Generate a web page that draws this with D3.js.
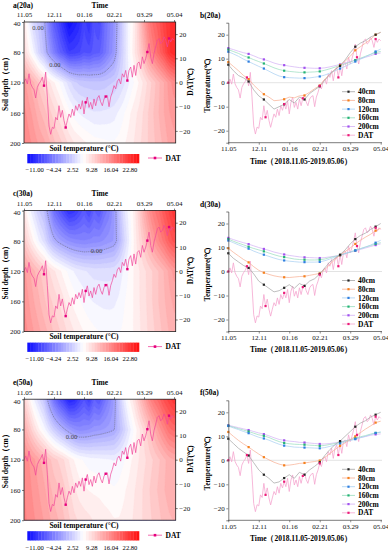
<!DOCTYPE html>
<html>
<head>
<meta charset="utf-8">
<script src="https://cdn.jsdelivr.net/npm/d3@7"></script>
<style>
body { margin: 0; background: #fff; }
svg { display: block; }
text { font-family: "Liberation Serif", "Times New Roman", serif; }
</style>
</head>
<body>
<svg width="388" height="550"></svg>
<script>
// days after 2018.11.05
var tickDays = [0, 36, 72, 108, 144, 180];
var tickLabels = ["11.05", "12.11", "01.16", "02.21", "03.29", "05.04"];
var depths = [40, 80, 120, 160, 200];
var depthTicks = [40, 80, 120, 160, 200];
var tempTicks = [-20, -10, 0, 10, 20];
var cbarLabels = ["\u221211.00", "\u22124.24", "2.52", "9.28", "16.04", "22.80"];
var seriesNames = ["40cm", "80cm", "120cm", "160cm", "200cm", "DAT"];

// soil temperature, one reading every 6 days
var stDays = [0, 6, 12, 18, 24, 30, 36, 42, 48, 54, 60, 66, 72, 78, 84, 90, 96, 102, 108, 114, 120, 126, 132, 138, 144, 150, 156, 162, 168, 174, 180];

var s20_40 = [7.5, 5, 3, 2, 0.5, -3, -5.5, -7, -9, -11, -10, -9, -7, -8.5, -6, -7, -4.5, -3, -1.5, 1, 3.5, 5.5, 7, 9.5, 12.5, 15, 16.5, 17.5, 19, 20, 21];
var s20_80 = [8.6, 6.8, 5, 3, 1.5, -1, -3, -4.8, -6, -7.5, -7.3, -6.9, -6, -6.3, -5.5, -5.3, -4, -2.5, -1.2, 1.5, 3.5, 5.5, 7.3, 9, 11, 13.5, 15, 16.5, 18, 20, 21];
var s20_120 = [12.9, 12, 11, 9.8, 8.8, 7.8, 6.8, 5.9, 4.8, 3.7, 2.8, 2.3, 2.1, 2, 1.9, 1.9, 2, 2.3, 2.6, 3.2, 4, 5, 5.9, 6.8, 7.8, 8.8, 9.8, 10.8, 11.8, 13, 14];
var s20_160 = [13.8, 13, 12.2, 11.2, 10.5, 9.6, 8.8, 8, 7.1, 6.2, 5.5, 5, 4.7, 4.5, 4.3, 4.3, 4.4, 4.5, 4.7, 5.2, 5.8, 6.5, 7.2, 7.8, 8.6, 9.4, 10.2, 11, 11.8, 12.6, 13];
var s20_200 = [14.4, 13.8, 13.1, 12.5, 12, 11.2, 10.3, 9.7, 9, 8.2, 7.6, 7.3, 6.9, 6.6, 6.3, 6.2, 6.1, 6, 6, 6.2, 6.6, 7.1, 7.6, 8.2, 8.8, 9.4, 10, 10.6, 11.2, 12, 12.4];

var s30_40 = [7.6, 5.5, 4, 2.5, 1.5, -1, -4, -5.5, -7, -8.5, -8, -6.8, -5.5, -7, -5, -6, -4, -3, -1, 1.5, 4, 5.5, 7, 9, 11.5, 13.5, 15, 16, 17.5, 18.7, 20];
var s30_80 = [9.7, 8, 6.5, 5, 3.8, 2, 0.5, -0.5, -1.2, -1.8, -2.2, -2.4, -2.5, -2.3, -2.1, -2, -1.6, -1.2, -0.8, 0.8, 3, 5, 6.8, 8.3, 9.8, 11.5, 13, 14.3, 15.5, 17, 18];
var s30_120 = [12.9, 12, 11.1, 10.3, 9.5, 8.5, 7.7, 7, 6.3, 5.6, 5, 4.6, 4.3, 4.1, 3.9, 3.9, 3.9, 3.9, 4, 4.5, 5.2, 6, 6.8, 7.5, 8.2, 8.8, 9.5, 10.2, 11, 12, 13];
var s30_160 = [13.5, 12.6, 11.8, 11.1, 10.3, 9.6, 9, 8.4, 7.7, 7, 6.4, 6, 5.6, 5.2, 5, 4.9, 4.8, 4.8, 4.9, 5.2, 5.8, 6.3, 6.8, 7.5, 8.1, 8.8, 9.5, 10.2, 10.8, 11.5, 12];
var s30_200 = [14, 13.3, 12.6, 12, 11.4, 10.7, 10, 9.4, 8.8, 8.1, 7.6, 7.1, 6.7, 6.4, 6.1, 5.9, 5.8, 5.7, 5.6, 5.8, 6.1, 6.4, 6.8, 7.4, 8, 8.6, 9.2, 9.8, 10.4, 11, 11.5];

var s50_40 = [9, 7, 5, 3.5, 2, -1, -4, -6, -7.5, -9.5, -9, -7.4, -6, -7.5, -5, -6, -4, -2.5, -0.8, 2, 4.5, 6.5, 8, 10, 12, 14, 15.5, 16.5, 18, 19, 20];
var s50_80 = [11.8, 10, 8.3, 6.8, 5.5, 4, 2.6, 1.3, 0.2, -0.8, -1.6, -2.1, -2, -1.7, -1.3, -1.1, -0.8, -0.5, -0.1, 1.2, 2.8, 4.5, 6, 7.3, 8.6, 10, 11.5, 13, 14.3, 15.7, 16.3];
var s50_120 = [14.3, 13.5, 12.8, 12, 11.3, 10.4, 9.6, 9.1, 8.4, 7.5, 6.7, 6.1, 5.8, 5.5, 5.4, 5.3, 5.2, 5.1, 5, 5.3, 5.8, 6.4, 7, 7.6, 8.2, 8.8, 9.4, 10, 10.7, 11.4, 11.8];
var s50_160 = [14.4, 13.8, 13.2, 12.6, 12, 11.3, 10.6, 10.2, 9.5, 8.6, 7.8, 7.2, 6.9, 6.7, 6.6, 6.5, 6.3, 6.2, 6, 6.2, 6.6, 7, 7.5, 8, 8.6, 9.2, 9.8, 10.3, 10.9, 11.4, 11.7];
var s50_200 = [14.6, 14.1, 13.6, 13.1, 12.6, 12, 11.4, 10.9, 10.2, 9.4, 8.7, 8.3, 8, 7.8, 7.5, 7.4, 7.2, 7, 6.8, 6.8, 7, 7.3, 7.7, 8.1, 8.6, 9, 9.5, 9.9, 10.4, 10.8, 11];

// daily air temperature, one reading every 2 days
var datDays = [0, 2, 4, 6, 8, 10, 12, 14, 16, 18, 20, 22, 24, 26, 28, 30, 32, 34, 36, 38,
  40, 42, 44, 46, 48, 50, 52, 54, 56, 58, 60, 62, 64, 66, 68, 70, 72, 74, 76, 78,
  80, 82, 84, 86, 88, 90, 92, 94, 96, 98, 100, 102, 104, 106, 108, 110, 112, 114, 116, 118,
  120, 122, 124, 126, 128, 130, 132, 134, 136, 138, 140, 142, 144, 146, 148, 150, 152, 154, 156, 158,
  160, 162, 164, 166, 168, 170, 172, 174, 176, 178, 180];
var dat = [0, 1.5, -0.6, 3.6, -0.5, -2, -3, -6.4, -2, -0.5,
  0.5, 2.2, -1.3, 4.3, -6, -18, -21.4, -18.5, -19, -14.4,
  -15.5, -9.6, -14.4, -11.5, -15.7, -18.6, -15.7, -13, -14.4, -11,
  -13.7, -9.6, -11.5, -8.9, -11, -7.5, -13, -8.2, -6.1, -10.3,
  -8.2, -11, -6.8, -9.6, -6.5, -5.4, -8, -9.6, -6.8, -5.8,
  -5.4, -10, -6, -4, -1.3, -2.6, 0.5, 1.5, -0.6, 3.6,
  2.2, 5, 0.8, 5, 6.4, 2.2, 7.1, 2.9, 7.8, 8.5,
  5.7, 10.6, 7.8, 9.9, 12.6, 16.1, 10.6, 7.8, 12, 14.7,
  17.5, 18.2, 16.1, 16.8, 18.9, 17.5, 14.7, 18.2, 16.8, 18.2,
  17.5];

// which readings carry a marker
var stMark = [0, 4, 7, 11, 15, 18, 22, 25, 29];
var datMark = [0, 11, 22, 33, 44, 54, 65, 76, 87];
var datMarkLeft = [12, 25, 37, 49, 62, 74, 87];

// "0.00" contour labels, [day, depth]
var zeroA = [[16.8, 47], [37, 96]];
var zeroC = [[87, 93.6]];
var zeroE = [[57, 89]];

var panels = [
  {left: "a(20a)", right: "b(20a)", series: [s20_40, s20_80, s20_120, s20_160, s20_200], zero: zeroA},
  {left: "c(30a)", right: "d(30a)", series: [s30_40, s30_80, s30_120, s30_160, s30_200], zero: zeroC},
  {left: "e(50a)", right: "f(50a)", series: [s50_40, s50_80, s50_120, s50_160, s50_200], zero: zeroE}
];

var lineColors = ["#a3a3a3", "#f8ad90", "#a6cff2", "#96dcbd", "#d3b0f5", "#f5a6cf"];
var markColors = ["#262626", "#f5821f", "#2f7fe0", "#23b374", "#a152ef", "#ec1c79"];

var svg = d3.select("svg");
var color = d3.scaleLinear().domain([-11, 6, 22.8]).range(["#0c0cff", "#ffffff", "#ff0c0c"]);
var step = 0.845;
var thresholds = d3.range(-11, 22.8, step);

function field(series, nx, ny) {
  var byDay = series.map(function(s) {
    return d3.scaleLinear().domain(stDays).range(s).clamp(true);
  });
  var values = new Array(nx * ny);
  for (var j = 0; j < ny; j++) {
    for (var i = 0; i < nx; i++) {
      var day = i * 182 / (nx - 1), dep = 40 + j * 160 / (ny - 1);
      var col = byDay.map(function(f) { return f(day); });
      values[j * nx + i] = d3.scaleLinear().domain(depths).range(col)(dep);
    }
  }
  return values;
}

function squares(g, pts, fill, size) {
  g.selectAll(null)
    .data(pts)
    .enter()
    .append("rect")
      .attr("x", function(d) { return d[0] - size / 2; })
      .attr("y", function(d) { return d[1] - size / 2; })
      .attr("width", size)
      .attr("height", size)
      .attr("fill", fill);
}

panels.forEach(function(p, k) {
  // ---------- left: depth / time contour map ----------
  var top = 22 + k * 188.6, bottom = top + 121;
  var x = d3.scaleLinear().domain([0, 182]).range([24, 175.7]);
  var y = d3.scaleLinear().domain([40, 200]).range([top, bottom]);
  var yDat = d3.scaleLinear().domain([-25, 25]).range([bottom, top]);

  var nx = 122, ny = 81;
  var values = field(p.series, nx, ny);
  var proj = d3.geoTransform({point: function(gx, gy) {
    var day = Math.max(0, Math.min(182, (gx - 0.5) * 182 / (nx - 1)));
    var dep = Math.max(40, Math.min(200, 40 + (gy - 0.5) * 160 / (ny - 1)));
    this.stream.point(x(day), y(dep));
  }});
  var path = d3.geoPath(proj);

  svg.append("clipPath").attr("id", "clip" + k)
    .append("rect").attr("x", 24).attr("y", top).attr("width", 151.7).attr("height", 121);

  var map = svg.append("g").attr("clip-path", "url(#clip" + k + ")");
  map.selectAll("path.band")
    .data(d3.contours().size([nx, ny]).thresholds(thresholds)(values))
    .enter()
    .append("path")
      .attr("class", "band")
      .attr("d", path)
      .attr("fill", function(d) { return color(d.value + step / 2); })
      .attr("stroke", function(d) { return color(d.value + step / 2); })
      .attr("stroke-width", 0.3);

  map.selectAll("path.zero")
    .data(d3.contours().size([nx, ny]).thresholds([0])(values.map(function(v) { return -v; })))
    .enter()
    .append("path")
      .attr("class", "zero")
      .attr("d", path)
      .attr("fill", "none")
      .attr("stroke", "#6a6a7a")
      .attr("stroke-width", 0.6)
      .attr("stroke-dasharray", "1.2,0.8");

  p.zero.forEach(function(z) {
    svg.append("text")
      .attr("x", x(z[0])).attr("y", y(z[1]) + 2.3)
      .attr("text-anchor", "middle")
      .attr("font-size", 6.5).attr("fill", "#444")
      .text("0.00");
  });

  var datLine = d3.line()
    .x(function(d, i) { return x(datDays[i]); })
    .y(function(d) { return yDat(d); });
  map.append("path")
    .datum(dat)
    .attr("d", datLine)
    .attr("fill", "none")
    .attr("stroke", "#f0469a")
    .attr("stroke-width", 0.7);
  squares(map, datMarkLeft.map(function(i) { return [x(datDays[i]), yDat(dat[i])]; }), "#e6007e", 2.4);

  svg.append("rect")
    .attr("x", 24).attr("y", top).attr("width", 151.7).attr("height", 121)
    .attr("fill", "none").attr("stroke", "#222").attr("stroke-width", 0.8);

  var axTop = svg.append("g")
    .attr("transform", "translate(0," + top + ")")
    .call(d3.axisTop(x).tickValues(tickDays).tickFormat(function(d, i) { return tickLabels[i]; }).tickSize(2).tickPadding(2.6));
  var axLeft = svg.append("g")
    .attr("transform", "translate(24,0)")
    .call(d3.axisLeft(y).tickValues(depthTicks).tickSize(2).tickPadding(1.5));
  var axRight = svg.append("g")
    .attr("transform", "translate(175.7,0)")
    .call(d3.axisRight(yDat).tickValues(tempTicks).tickSize(2).tickPadding(1.5));
  [axTop, axLeft, axRight].forEach(function(a) {
    a.select(".domain").remove();
    a.selectAll("text").attr("font-size", 7).attr("font-family", null).attr("fill", "#111");
    a.selectAll("line").attr("stroke", "#222").attr("stroke-width", 0.6);
  });
  axLeft.select(".tick text").attr("dy", "0.55em");

  svg.append("text").attr("x", 13).attr("y", top - 14.5)
    .attr("font-size", 7.5).attr("font-weight", "bold").text(p.left);
  svg.append("text").attr("x", 99.8).attr("y", top - 14.5)
    .attr("text-anchor", "middle").attr("font-size", 7.5).attr("font-weight", "bold").text("Time");
  svg.append("text")
    .attr("transform", "translate(8," + (top + 60) + ")rotate(-90)")
    .attr("text-anchor", "middle").attr("font-size", 7.5).attr("font-weight", "bold")
    .text("Soil depth\uff08cm\uff09");
  svg.append("text")
    .attr("transform", "translate(192.5," + (top + 60) + ")rotate(-90)")
    .attr("text-anchor", "middle").attr("font-size", 7.5).attr("font-weight", "bold")
    .text("DAT(\u2103)");

  // colour bar
  var cbx = d3.scaleLinear().domain([-11, 22.8]).range([27.3, 139]);
  svg.append("text").attr("x", 84).attr("y", top + 128.5)
    .attr("text-anchor", "middle").attr("font-size", 7.5).attr("font-weight", "bold")
    .text("Soil temperature (\u00b0C)");
  svg.selectAll(null)
    .data(thresholds)
    .enter()
    .append("rect")
      .attr("x", function(d) { return cbx(d); })
      .attr("y", top + 132)
      .attr("width", function(d) { return cbx(Math.min(22.8, d + step)) - cbx(d) + 0.3; })
      .attr("height", 9.3)
      .attr("fill", function(d) { return color(d + step / 2); });
  cbarLabels.forEach(function(t, i) {
    svg.append("text").attr("x", 34.7 + i * 19.06).attr("y", top + 150.3)
      .attr("text-anchor", "middle").attr("font-size", 6.6).text(t);
  });
  svg.append("line").attr("x1", 148).attr("x2", 162).attr("y1", top + 136).attr("y2", top + 136)
    .attr("stroke", "#f0469a").attr("stroke-width", 0.8);
  squares(svg, [[155, top + 136]], "#e6007e", 2.6);
  svg.append("text").attr("x", 165.5).attr("y", top + 138.6)
    .attr("font-size", 7.5).attr("font-weight", "bold").text("DAT");

  // ---------- right: temperature time series ----------
  var rTop = 22.7 + k * 188.8, rBottom = rTop + 120;
  var xr = d3.scaleLinear().domain([0, 180]).range([228.3, 380.7]);
  var yr = d3.scaleLinear().domain([-25, 25]).range([rBottom, rTop]);
  var g = svg.append("g");

  g.append("line").attr("x1", 228.3).attr("x2", 382).attr("y1", yr(0)).attr("y2", yr(0))
    .attr("stroke", "#dcdcdc").attr("stroke-width", 0.8);

  var stLine = d3.line()
    .x(function(d, i) { return xr(stDays[i]); })
    .y(function(d) { return yr(d); });
  var datLineR = d3.line()
    .x(function(d, i) { return xr(datDays[i]); })
    .y(function(d) { return yr(d); });

  g.append("path").datum(dat).attr("d", datLineR)
    .attr("fill", "none").attr("stroke", lineColors[5]).attr("stroke-width", 0.8);
  for (var s = 4; s >= 0; s--) {
    g.append("path").datum(p.series[s]).attr("d", stLine)
      .attr("fill", "none").attr("stroke", lineColors[s]).attr("stroke-width", 0.7);
  }
  for (var s2 = 4; s2 >= 0; s2--) {
    var ser = p.series[s2];
    squares(g, stMark.map(function(i) { return [xr(stDays[i]), yr(ser[i])]; }), markColors[s2], 2.2);
  }
  squares(g, datMark.map(function(i) { return [xr(datDays[i]), yr(dat[i])]; }), markColors[5], 2.2);

  var axB = svg.append("g")
    .attr("transform", "translate(0," + rBottom + ")")
    .call(d3.axisBottom(xr).tickValues(tickDays).tickFormat(function(d, i) { return tickLabels[i]; }).tickSize(2).tickPadding(1.5));
  var axL = svg.append("g")
    .attr("transform", "translate(228.3,0)")
    .call(d3.axisLeft(yr).tickValues(tempTicks).tickSize(2).tickPadding(1.5));
  axB.select(".domain").attr("d", "M228.3,0H382");
  [axB, axL].forEach(function(a) {
    a.select(".domain").attr("stroke", "#444").attr("stroke-width", 0.7);
    a.selectAll("text").attr("font-size", 7).attr("font-family", null).attr("fill", "#111");
    a.selectAll("line").attr("stroke", "#444").attr("stroke-width", 0.6);
  });

  svg.append("text").attr("x", 200).attr("y", rTop - 5)
    .attr("font-size", 7.5).attr("font-weight", "bold").text(p.right);
  svg.append("text")
    .attr("transform", "translate(209.5," + (rTop + 63) + ")rotate(-90)")
    .attr("text-anchor", "middle").attr("font-size", 7.5).attr("font-weight", "bold")
    .text("Temperature(\u2103)");
  svg.append("text").attr("x", 301).attr("y", rBottom + 20.8)
    .attr("text-anchor", "middle").attr("font-size", 7.5).attr("font-weight", "bold")
    .text("Time\uff082018.11.05-2019.05.06\uff09");

  // legend
  seriesNames.forEach(function(name, i) {
    var ly = rTop + 69 + i * 8.7;
    svg.append("line").attr("x1", 342).attr("x2", 355).attr("y1", ly).attr("y2", ly)
      .attr("stroke", lineColors[i]).attr("stroke-width", 0.8);
    squares(svg, [[348.5, ly]], markColors[i], 2.2);
    svg.append("text").attr("x", 358).attr("y", ly + 2.6)
      .attr("font-size", 7.5).attr("font-weight", "bold").text(name);
  });
});
</script>
</body>
</html>
